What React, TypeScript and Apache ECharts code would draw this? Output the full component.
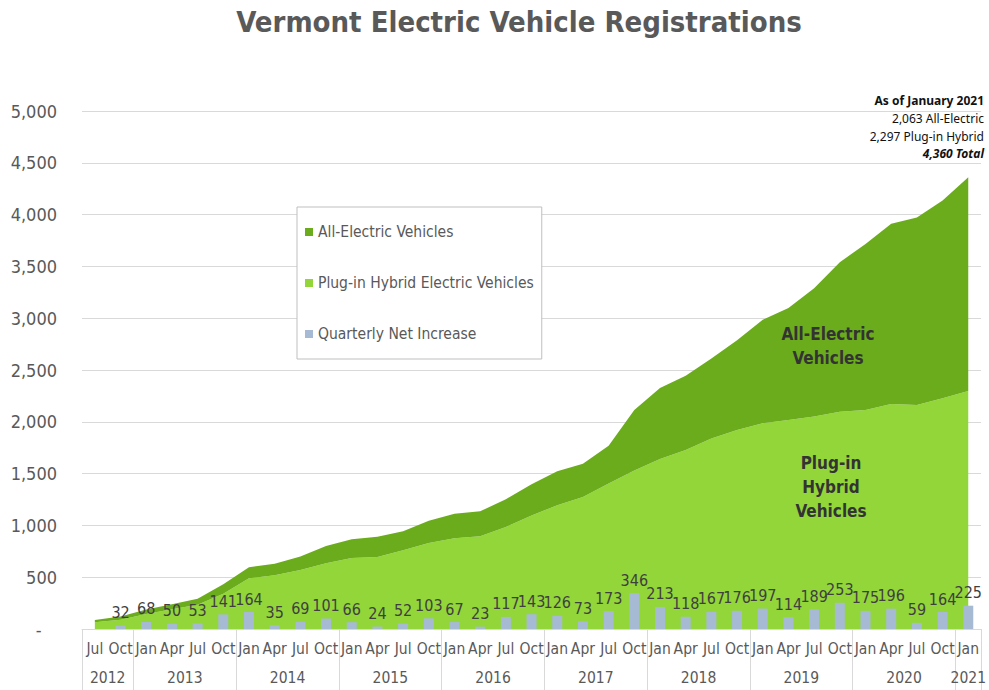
import React, { useEffect, useRef } from "react";
import * as echarts from "echarts";

const FONT = "'DejaVu Sans Condensed', 'DejaVu Sans', sans-serif";
const NOTE_FONT = "'Liberation Sans Narrow', 'Noto Sans', sans-serif";

const QUARTERS = [
  "Jul", "Oct",
  "Jan", "Apr", "Jul", "Oct",
  "Jan", "Apr", "Jul", "Oct",
  "Jan", "Apr", "Jul", "Oct",
  "Jan", "Apr", "Jul", "Oct",
  "Jan", "Apr", "Jul", "Oct",
  "Jan", "Apr", "Jul", "Oct",
  "Jan", "Apr", "Jul", "Oct",
  "Jan", "Apr", "Jul", "Oct",
  "Jan",
];
const YEARS = ["2012", "2013", "2014", "2015", "2016", "2017", "2018", "2019", "2020", "2021"];
const YEAR_COUNTS = [2, 4, 4, 4, 4, 4, 4, 4, 4, 1];

const PHEV = [
  65, 90, 145, 190, 235, 340, 490, 520, 570, 635, 685, 695, 760, 830, 875, 895, 985, 1095,
  1195, 1275, 1405, 1530, 1640, 1728, 1840, 1920, 1985, 2017, 2050, 2098, 2114, 2172, 2162,
  2227, 2297,
];
const BEV = [
  23, 30, 43, 48, 56, 92, 106, 111, 130, 166, 182, 196, 183, 216, 238, 241, 268, 301, 327,
  320, 363, 584, 687, 717, 772, 868, 1000, 1082, 1238, 1443, 1602, 1740, 1809, 1908, 2063,
];
const NET_INCREASE: (number | null)[] = [
  null, 32, 68, 50, 53, 141, 164, 35, 69, 101, 66, 24, 52, 103, 67, 23, 117, 143, 126, 73,
  173, 346, 213, 118, 167, 176, 197, 114, 189, 253, 175, 196, 59, 164, 225,
];
const Y_TICKS = { min: 0, max: 5000, interval: 500 };

const GRAY = "#595959";
const DARK_GREEN = "#6bac1d";
const LIGHT_GREEN = "#92d63a";
const BAR_BLUE = "#a6bad4";

export default function App() {
  const ref = useRef<HTMLDivElement>(null);

  useEffect(() => {
    if (!ref.current) return;
    const chart = echarts.init(ref.current, undefined, { renderer: "svg" });

    const cats: string[] = [];
    let qi = 0;
    YEARS.forEach((y, yi) => {
      for (let j = 0; j < YEAR_COUNTS[yi]; j++) {
        cats.push(QUARTERS[qi] + " " + y);
        qi++;
      }
    });
    const n = cats.length;

    // half-step axis for year grouping: position k -> -0.5 + 0.5k
    const halfCats: string[] = [];
    for (let k = 0; k <= 2 * n; k++) halfCats.push("p" + k);
    const labelAt: Record<number, string> = {};
    const boundaryAt: Record<number, boolean> = { 0: true };
    let start = 0;
    YEARS.forEach((y, yi) => {
      const end = start + YEAR_COUNTS[yi] - 1;
      const center = (start + end) / 2;
      labelAt[Math.round((center + 0.5) * 2)] = y;
      boundaryAt[Math.round((end + 1) * 2)] = true;
      start = end + 1;
    });

    const note = (text: string, y: number, bold: boolean, italic = false) => ({
      type: "text",
      x: 984,
      y,
      z: 100,
      style: {
        text,
        align: "right",
        verticalAlign: "middle",
        fontSize: 12,
        fontWeight: bold ? "bold" : "normal",
        fontStyle: italic ? "italic" : "normal",
        fontFamily: NOTE_FONT,
        fill: "#111111",
      },
    });

    chart.setOption({
      animation: false,
      textStyle: { fontFamily: FONT },
      grid: { left: 82, right: 3, top: 111, bottom: 61, containLabel: false },
      legend: {
        orient: "vertical",
        left: 297,
        top: 207,
        padding: [17, 8, 17, 8],
        itemGap: 35,
        itemWidth: 8,
        itemHeight: 8,
        icon: "rect",
        borderColor: "#bfbfbf",
        borderWidth: 1,
        backgroundColor: "#ffffff",
        textStyle: { fontSize: 15.5, color: GRAY, fontFamily: FONT },
        data: ["All-Electric Vehicles", "Plug-in Hybrid Electric Vehicles", "Quarterly Net Increase"],
      },
      xAxis: [
        {
          type: "category",
          data: cats,
          boundaryGap: true,
          axisLine: { show: true, lineStyle: { color: "#d9d9d9", width: 1 } },
          axisTick: { show: false },
          axisLabel: {
            interval: 0,
            margin: 12,
            fontSize: 15.5,
            color: GRAY,
            fontFamily: FONT,
            formatter: (v: string) => v.split(" ")[0],
          },
        },
        {
          type: "category",
          data: halfCats,
          boundaryGap: false,
          position: "bottom",
          axisLine: { show: false },
          axisTick: {
            show: true,
            length: 62,
            interval: (i: number) => !!boundaryAt[i],
            lineStyle: { color: "#d9d9d9", width: 1 },
          },
          axisLabel: {
            show: true,
            margin: 41,
            fontSize: 15.5,
            color: GRAY,
            fontFamily: FONT,
            interval: (i: number) => labelAt[i] !== undefined,
            formatter: (_v: string, i: number) => labelAt[i] || "",
          },
        },
      ],
      yAxis: {
        type: "value",
        min: Y_TICKS.min,
        max: Y_TICKS.max,
        interval: Y_TICKS.interval,
        axisLine: { show: false },
        axisTick: { show: false },
        splitLine: { lineStyle: { color: "#d9d9d9", width: 1 } },
        axisLabel: {
          margin: 25,
          fontSize: 18,
          color: GRAY,
          fontFamily: FONT,
          formatter: (v: number) => (v === 0 ? "-   " : v.toLocaleString("en-US")),
        },
      },
      series: [
        {
          name: "Plug-in Hybrid Electric Vehicles",
          type: "line",
          stack: "ev",
          data: PHEV,
          color: LIGHT_GREEN,
          symbol: "none",
          lineStyle: { width: 0 },
          areaStyle: { color: LIGHT_GREEN, opacity: 1 },
          z: 1,
        },
        {
          name: "All-Electric Vehicles",
          type: "line",
          stack: "ev",
          data: BEV,
          color: DARK_GREEN,
          symbol: "none",
          lineStyle: { width: 0 },
          areaStyle: { color: DARK_GREEN, opacity: 1 },
          z: 1,
        },
        {
          name: "Quarterly Net Increase",
          type: "bar",
          data: NET_INCREASE,
          color: BAR_BLUE,
          barWidth: 10,
          z: 3,
          label: {
            show: true,
            position: "top",
            distance: 5,
            fontSize: 16,
            color: "#3f3f3f",
            fontFamily: FONT,
          },
        },
      ],
      graphic: [
        {
          type: "text",
          x: 519,
          y: 22,
          z: 100,
          style: {
            text: "Vermont Electric Vehicle Registrations",
            align: "center",
            verticalAlign: "middle",
            fontSize: 29,
            fontWeight: "bold",
            fontFamily: FONT,
            fill: GRAY,
          },
        },
        note("As of January 2021", 100, true),
        note("2,063 All-Electric", 118, false),
        note("2,297 Plug-in Hybrid", 136, false),
        note("4,360 Total", 153, true, true),
        {
          type: "text",
          x: 828,
          y: 346,
          z: 100,
          style: {
            text: "All-Electric\nVehicles",
            align: "center",
            verticalAlign: "middle",
            lineHeight: 24,
            fontSize: 17,
            fontWeight: "bold",
            fontFamily: FONT,
            fill: "#333333",
          },
        },
        {
          type: "text",
          x: 831,
          y: 487,
          z: 100,
          style: {
            text: "Plug-in\nHybrid\nVehicles",
            align: "center",
            verticalAlign: "middle",
            lineHeight: 24,
            fontSize: 17,
            fontWeight: "bold",
            fontFamily: FONT,
            fill: "#333333",
          },
        },
      ],
    });

    return () => chart.dispose();
  }, []);

  return (
    <div
      ref={ref}
      style={{ position: "fixed", left: 0, top: 0, width: 989, height: 690, background: "#ffffff" }}
    />
  );
}
